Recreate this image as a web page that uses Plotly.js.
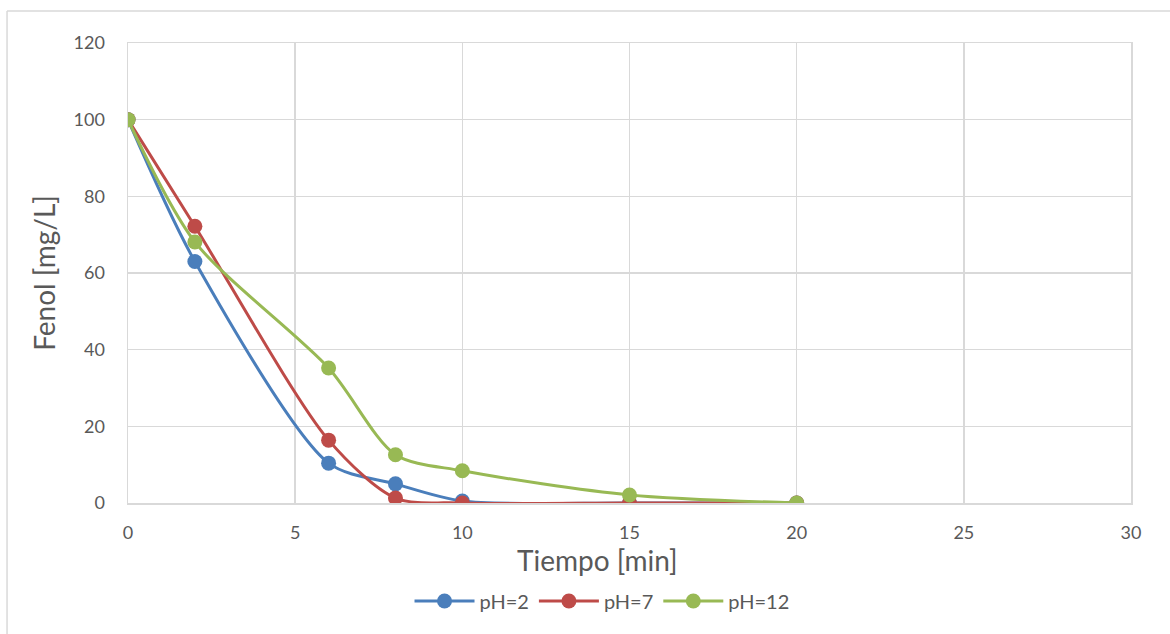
<!DOCTYPE html>
<html>
<head>
<meta charset="utf-8">
<script src="https://cdn.plot.ly/plotly-3.0.1.min.js"></script>
<style>
  html, body { margin: 0; padding: 0; background: #ffffff; }
  #chart { width: 1170px; height: 634px; }
</style>
</head>
<body>
<div id="chart"></div>
<script>
// Phenol concentration over time at three pH levels
const tiempo = [0, 2, 6, 8, 10, 15, 20];
const fenolPH2 = [100, 63, 10.4, 5, 0.5, 0, 0];
const fenolPH7 = [100, 72.2, 16.4, 1.3, 0, 0, 0];
const fenolPH12 = [100, 68.1, 35.2, 12.6, 8.4, 2.1, 0];

const seriesNames = ['pH=2', 'pH=7', 'pH=12'];
const seriesColors = ['#4a7ebb', '#be4b48', '#98b954'];
const seriesValues = [fenolPH2, fenolPH7, fenolPH12];

const gridColor = '#d9d9d9';
const textColor = '#595959';
const fontFamily = 'Lato, "Open Sans", sans-serif';

const traces = seriesValues.map((vals, i) => ({
  x: tiempo,
  y: vals,
  name: seriesNames[i],
  type: 'scatter',
  mode: 'lines+markers',
  line: { color: seriesColors[i], width: 3, shape: 'spline', smoothing: 0.8 },
  marker: { color: seriesColors[i], size: 15 }
}));

const layout = {
  width: 1170,
  height: 634,
  margin: { l: 128, r: 39, t: 43, b: 131 },
  paper_bgcolor: '#ffffff',
  plot_bgcolor: '#ffffff',
  font: { family: fontFamily, color: textColor, size: 18 },
  showlegend: true,
  legend: {
    orientation: 'h',
    x: 0.4726, xanchor: 'center',
    y: -0.213, yanchor: 'middle',
    font: { size: 20, color: textColor },
    itemwidth: 60
  },
  xaxis: {
    range: [0, 30],
    dtick: 5,
    tick0: 0,
    showgrid: true,
    gridcolor: gridColor,
    gridwidth: 1.5,
    showline: true,
    linecolor: gridColor,
    linewidth: 1.5,
    mirror: true,
    zeroline: false,
    ticks: '',
    ticklabelstandoff: 13,
    tickfont: { size: 18, color: textColor }
  },
  yaxis: {
    range: [0, 120],
    dtick: 20,
    tick0: 0,
    showgrid: true,
    gridcolor: gridColor,
    gridwidth: 1.5,
    showline: true,
    linecolor: gridColor,
    linewidth: 1.5,
    mirror: true,
    zeroline: false,
    ticks: '',
    ticklabelstandoff: 18,
    tickfont: { size: 18, color: textColor },
    title: { text: 'Fenol [mg/L]', font: { size: 28, color: textColor }, standoff: 10 }
  },
  annotations: [
    { text: 'Tiempo [min]', xref: 'paper', yref: 'paper', x: 0.4676, y: -0.1239,
      xanchor: 'center', yanchor: 'middle', showarrow: false,
      font: { size: 28, color: textColor, family: fontFamily } }
  ],
  shapes: [
    // chart frame edges
    { type: 'line', xref: 'paper', yref: 'paper', x0: -0.1206, x1: -0.1206, y0: -0.3, y1: 1.0696,
      line: { color: gridColor, width: 1.5 } },
    { type: 'line', xref: 'paper', yref: 'paper', x0: -0.1206, x1: 1.05, y0: 1.0696, y1: 1.0696,
      line: { color: gridColor, width: 1.5 } }
  ]
};

Plotly.newPlot('chart', traces, layout, { displayModeBar: false, staticPlot: true });
</script>
</body>
</html>
